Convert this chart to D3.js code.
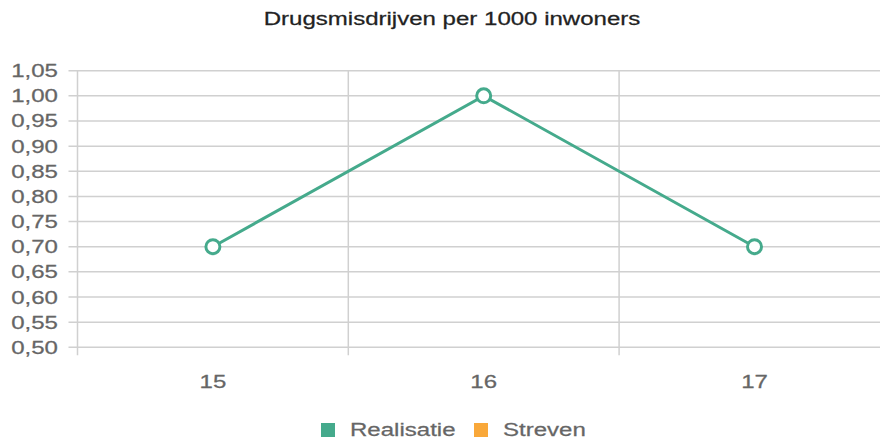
<!DOCTYPE html>
<html>
  <head lang="nl">
    <meta charset="utf-8">
    <title>Drugsmisdrijven per 1000 inwoners</title>
    <script type="text/javascript" src="https://cdn.jsdelivr.net/npm/d3@7"></script>
    <style>
      body { margin: 0; background: #fff; }
      text { font-family: "Liberation Sans", Arial, sans-serif; }
    </style>
  </head>
  <body>
    <script type="text/javascript">

      // data
      var categories = ["15", "16", "17"];
      var realisatie = [0.70, 1.00, 0.70];
      var streven = [];
      var yTicks = [0.50, 0.55, 0.60, 0.65, 0.70, 0.75, 0.80, 0.85, 0.90, 0.95, 1.00, 1.05];
      var seriesNames = ["Realisatie", "Streven"];
      var seriesColors = ["#45aa8c", "#f9a83a"];

      var width = 881, height = 441;
      var m = {left: 77.5, right: 880, top: 70.7, bottom: 347.3};
      var stretch = 1.3; // the reference text is wider than normal Arial

      var svg = d3.select("body")
                  .append("svg")
                  .attr("width", width)
                  .attr("height", height);

      // put a stretched text at x, y
      function label(parent, x, y, anchor, str, color) {
        return parent.append("text")
          .attr("transform", "translate(" + x + "," + y + ") scale(" + stretch + ",1)")
          .attr("text-anchor", anchor)
          .attr("fill", color)
          .attr("stroke", color)
          .attr("stroke-width", 0.25)
          .style("font-size", "18.5px")
          .text(str);
      }

      // title
      label(svg, 452, 25, "middle", "Drugsmisdrijven per 1000 inwoners", "#222");

      var y_scale = d3.scaleLinear()
          .domain([0.50, 1.05])
          .range([m.bottom, m.top]);

      var x_scale = d3.scaleBand()
          .domain(categories)
          .range([m.left, m.left + 3 * 270.8]);

      // horizontal grid
      svg.selectAll(".hgrid")
         .data(yTicks)
         .enter()
         .append("line")
         .attr("class", "hgrid")
         .attr("x1", m.left - 9)
         .attr("x2", m.right)
         .attr("y1", function(d) { return y_scale(d); })
         .attr("y2", function(d) { return y_scale(d); })
         .attr("stroke", "#d0d0d0")
         .attr("stroke-width", 1.5);

      // y labels
      yTicks.forEach(function(d) {
        label(svg, 58, y_scale(d) + 6.5, "end", d3.format(".2f")(d).replace(".", ","), "#666");
      });

      // vertical grid lines (band boundaries)
      var bounds = [m.left, x_scale("16"), x_scale("17")];
      svg.selectAll(".vgrid")
         .data(bounds)
         .enter()
         .append("line")
         .attr("class", "vgrid")
         .attr("x1", function(d) { return d; })
         .attr("x2", function(d) { return d; })
         .attr("y1", m.top)
         .attr("y2", m.bottom + 8)
         .attr("stroke", "#d0d0d0")
         .attr("stroke-width", 1.5);

      // x labels
      categories.forEach(function(c) {
        label(svg, x_scale(c) + x_scale.bandwidth() / 2, 388, "middle", c, "#666");
      });

      // line
      var pts = categories.map(function(c, i) { return {c: c, v: realisatie[i]}; });
      var line = d3.line()
          .x(function(d) { return x_scale(d.c) + x_scale.bandwidth() / 2; })
          .y(function(d) { return y_scale(d.v); });

      svg.append("path")
         .datum(pts)
         .attr("d", line)
         .attr("fill", "none")
         .attr("stroke", seriesColors[0])
         .attr("stroke-width", 3);

      svg.selectAll(".pt")
         .data(pts)
         .enter()
         .append("circle")
         .attr("class", "pt")
         .attr("cx", function(d) { return x_scale(d.c) + x_scale.bandwidth() / 2; })
         .attr("cy", function(d) { return y_scale(d.v); })
         .attr("r", 7)
         .attr("fill", "#fff")
         .attr("stroke", seriesColors[0])
         .attr("stroke-width", 3);

      // legend
      var legendX = [321, 474];
      seriesNames.forEach(function(name, i) {
        svg.append("rect")
           .attr("x", legendX[i])
           .attr("y", 423)
           .attr("width", 14)
           .attr("height", 14)
           .attr("fill", seriesColors[i]);
        label(svg, legendX[i] + 29, 436, "start", name, "#666");
      });
    </script>
  </body>
</html>
